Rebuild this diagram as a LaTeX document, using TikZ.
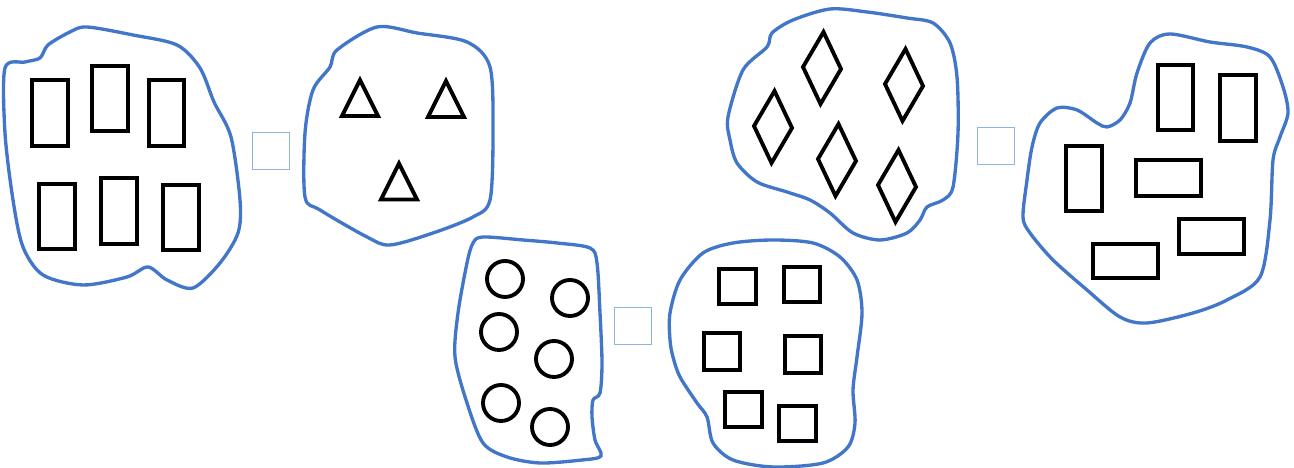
\documentclass[tikz,border=0pt]{standalone}
\definecolor{blobblue}{RGB}{66,118,200}
\definecolor{boxblue}{RGB}{140,180,228}

\begin{document}
\begin{tikzpicture}[x=0.01cm,y=-0.01cm,
  blob/.style={draw=blobblue,line width=0.95pt},
  shp/.style={draw,line width=1.1pt,line join=miter},
  answer/.style={draw=boxblue,line width=0.5pt,minimum size=0.37cm,inner sep=0pt}]
  \useasboundingbox (0,0) rectangle (1294,468);

  % outlines of the sets
  \draw[blob] plot[smooth cycle,tension=0.5] coordinates {(5,68) (25,62) (40,58) (48,45) (70,32) (87,27) (133,35) (177,45)
    (200,68) (214,102) (231,137) (240,200) (238,233) (220,263) (193,288) (167,280) (148,267) (127,277) (83,285)
    (43,275) (23,247) (13,200) (5,133)};
  \draw[blob] plot[smooth cycle,tension=0.5] coordinates {(337,50) (377,27) (417,33) (467,42) (490,67) (493,133) (490,200)
    (473,217) (433,233) (390,245) (367,237) (320,210) (305,197) (305,133) (313,90) (330,67)};
  \draw[blob] plot[smooth cycle,tension=0.5] coordinates {(728,117) (743,70) (767,47) (772,33) (793,20) (830,9) (867,12)
    (907,18) (933,23) (950,43) (957,77) (958,133) (953,187) (943,200) (927,207) (920,220) (907,233) (880,240)
    (853,233) (830,213) (810,200) (787,192) (757,182) (737,163) (730,140)};
  \draw[blob] plot[smooth cycle,tension=0.5] coordinates {(1023,217) (1027,180) (1032,147) (1040,123) (1057,108) (1077,110)
    (1097,123) (1107,127) (1120,120) (1130,103) (1137,73) (1150,43) (1170,34) (1210,42) (1247,47) (1270,57)
    (1283,87) (1288,113) (1280,137) (1273,160) (1270,220) (1260,277) (1227,300) (1193,313) (1147,323) (1120,317)
    (1087,290) (1053,260) (1030,233)};
  \draw[blob] plot[smooth cycle,tension=0.5] coordinates {(473,243) (483,237) (523,240) (557,243) (590,248) (597,263)
    (600,313) (602,363) (600,393) (593,400) (592,417) (595,440) (601,456) (582,460) (540,463) (507,457)
    (483,443) (467,403) (455,357) (458,313) (467,263)};
  \draw[blob] plot[smooth cycle,tension=0.5] coordinates {(670,313) (680,280) (703,253) (733,243) (773,240) (813,243)
    (840,257) (857,280) (862,313) (857,357) (853,390) (855,423) (848,447) (823,463) (773,467) (733,460)
    (713,443) (707,417) (697,403) (680,377) (673,357) (670,340)};

  % rectangles, triangles, diamonds, circles, squares
  \foreach \a/\b/\c/\d in {32/80/68/146, 92/66/128/131, 149/80/184/146, 39/184/75/249, 101/178/137/244,
    163/185/199/250, 1158/65/1193/130, 1220/75/1256/141, 1066/146/1102/211, 1136/160/1201/196,
    1179/219/1244/254, 1093/244/1158/278}
    \draw[shp] (\a,\b) rectangle (\c,\d);
  \foreach \x/\y in {360/98, 446/99, 399/181.5}
    \draw[shp] (\x-18,\y+18) -- (\x,\y-18) -- (\x+18,\y+18) -- cycle;
  \foreach \x/\y in {822/68, 904/85, 773/127, 837/160, 897/186}
    \draw[shp] (\x+1.5,\y-36) -- (\x+19,\y+1) -- (\x-1.5,\y+36) -- (\x-19,\y-1) -- cycle;
  \foreach \x/\y in {505/279, 570/298, 499/332, 554/359, 501/403, 550/427}
    \draw[shp] (\x,\y) circle[radius=0.18cm];
  \foreach \a/\b/\c/\d in {719/269/756/304, 784/267/820/302, 704/333/740/370, 785/336/821/373,
    725/392/762/427, 779/406/816/441}
    \draw[shp] (\a,\b) rectangle (\c,\d);

  % empty answer boxes
  \node[answer] (box1) at (271,151) {};
  \node[answer] (box2) at (996,146) {};
  \node[answer] (box3) at (633,326) {};
\end{tikzpicture}
\end{document}
